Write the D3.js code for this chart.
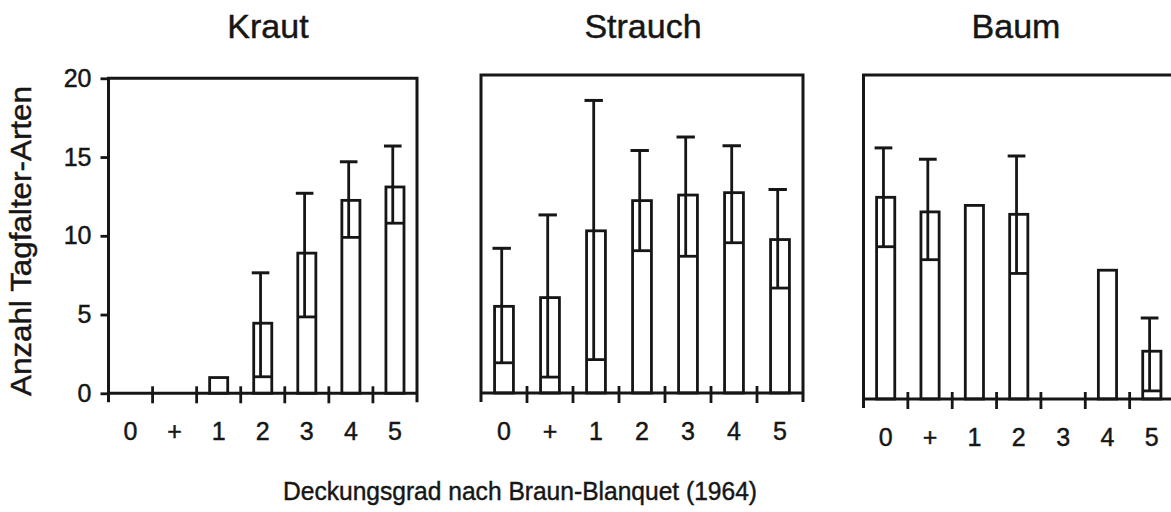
<!DOCTYPE html>
<html>
<head>
<meta charset="utf-8">
<script src="https://cdn.jsdelivr.net/npm/d3@7"></script>
<style>
  html, body { margin: 0; padding: 0; background: #fff; }
  svg { display: block; }
  text { font-family: "Liberation Sans", Arial, Helvetica, sans-serif; fill: #161616; stroke: #161616; stroke-width: 0.45px; }
</style>
</head>
<body>
<svg id="chart" width="1171" height="512"></svg>
<script>
// ---- data ----
const categories = ["0", "+", "1", "2", "3", "4", "5"];
const panelTitles = ["Kraut", "Strauch", "Baum"];
const yTicks = [0, 5, 10, 15, 20];

const krautMean = [null, null, 1.0, 4.45, 8.9, 12.25, 13.1];
const krautLow  = [null, null, null, 1.05, 4.85, 9.9, 10.8];
const krautHigh = [null, null, null, 7.65, 12.7, 14.7, 15.7];

const strauchMean = [5.45, 6.0, 10.2, 12.1, 12.45, 12.6, 9.65];
const strauchLow  = [1.9, 1.0, 2.1, 8.95, 8.6, 9.45, 6.6];
const strauchHigh = [9.1, 11.2, 18.4, 15.25, 16.1, 15.55, 12.8];

const baumMean = [12.45, 11.55, 11.95, 11.4, null, 7.95, 2.95];
const baumLow  = [9.4, 8.6, null, 7.75, null, null, 0.5];
const baumHigh = [15.5, 14.8, null, 15.0, null, null, 5.0];

const xTitle = "Deckungsgrad nach Braun-Blanquet (1964)";
const yTitle = "Anzahl Tagfalter-Arten";

// ---- layout (pixel boxes per panel: left, right, top, baseline) ----
const layout = [
  { left: 108.5, right: 417, top: 78.3, base: 393.3, yAxis: true, titleX: 268 },
  { left: 481, right: 803, top: 75, base: 393, yAxis: false, titleX: 643 },
  { left: 863.5, right: 1174, top: 75, base: 399, yAxis: false, titleX: 1016 }
];
const series = [
  { mean: krautMean, lo: krautLow, hi: krautHigh },
  { mean: strauchMean, lo: strauchLow, hi: strauchHigh },
  { mean: baumMean, lo: baumLow, hi: baumHigh }
];

const svg = d3.select("#chart");
const ink = "#161616";

panelTitles.forEach((title, p) => {
  const L = layout[p], S = series[p];
  const x = d3.scaleBand().domain(categories).range([L.left, L.right]).padding(0);
  const y = d3.scaleLinear().domain([0, 20]).range([L.base, L.top]);
  const g = svg.append("g");
  const bw = x.bandwidth() * 0.41;
  const off = -x.bandwidth() * 0.05;
  const cw = x.bandwidth() * 0.40;

  // bars
  categories.forEach((c, i) => {
    const m = S.mean[i];
    if (m == null) return;
    const xc = x(c) + x.bandwidth() / 2;
    g.append("rect")
      .attr("x", xc - bw / 2).attr("y", y(m))
      .attr("width", bw).attr("height", y(0) - y(m))
      .attr("fill", "#fff").attr("stroke", ink).attr("stroke-width", 2.8);
    if (S.lo[i] != null) {
      g.append("line")
        .attr("x1", xc - bw / 2).attr("x2", xc + bw / 2)
        .attr("y1", y(S.lo[i])).attr("y2", y(S.lo[i]))
        .attr("stroke", ink).attr("stroke-width", 2.8);
      g.append("line")
        .attr("x1", xc + off).attr("x2", xc + off)
        .attr("y1", y(S.lo[i])).attr("y2", y(S.hi[i]))
        .attr("stroke", ink).attr("stroke-width", 2.8);
      g.append("line")
        .attr("x1", xc + off - cw / 2).attr("x2", xc + off + cw / 2)
        .attr("y1", y(S.hi[i])).attr("y2", y(S.hi[i]))
        .attr("stroke", ink).attr("stroke-width", 3);
    }
  });

  // frame (left, top, right)
  g.append("path")
    .attr("d", `M${L.left},${L.base + 9}V${L.top}H${L.right}V${L.base + 9}`)
    .attr("fill", "none").attr("stroke", ink).attr("stroke-width", 3);
  // baseline
  g.append("line")
    .attr("x1", L.left).attr("x2", L.right)
    .attr("y1", L.base).attr("y2", L.base)
    .attr("stroke", ink).attr("stroke-width", 3);
  // boundary ticks between categories
  categories.slice(1).forEach(c => {
    const xb = x(c);
    g.append("line")
      .attr("x1", xb).attr("x2", xb)
      .attr("y1", L.base - 7).attr("y2", L.base + 10)
      .attr("stroke", ink).attr("stroke-width", 2.8);
  });

  // category labels through a d3 axis
  const ax = g.append("g")
    .attr("transform", `translate(0,${L.base})`)
    .call(d3.axisBottom(x).tickSize(0).tickPadding(0));
  ax.select(".domain").remove();
  ax.selectAll("text")
    .attr("dy", null).attr("y", 47)
    .style("font-size", "25px")
    .style("font-family", '"Liberation Sans", Arial, sans-serif')
    .attr("fill", ink);

  // y axis
  if (L.yAxis) {
    const ay = g.append("g")
      .attr("transform", `translate(${L.left},0)`)
      .call(d3.axisLeft(y).tickValues(yTicks).tickSize(8).tickPadding(9));
    ay.select(".domain").remove();
    ay.selectAll(".tick line").attr("stroke", ink).attr("stroke-width", 2.8);
    ay.selectAll("text")
      .style("font-size", "25px")
      .style("font-family", '"Liberation Sans", Arial, sans-serif')
      .attr("fill", ink);
  }

  // panel title
  svg.append("text")
    .attr("x", L.titleX)
    .attr("y", 38)
    .attr("text-anchor", "middle")
    .style("font-size", "34px")
    .text(title);
});

// axis titles
svg.append("text")
  .attr("x", 520).attr("y", 500)
  .attr("text-anchor", "middle")
  .attr("textLength", 474)
  .attr("lengthAdjust", "spacingAndGlyphs")
  .style("font-size", "26.5px")
  .text(xTitle);

svg.append("text")
  .attr("transform", "translate(31,241) rotate(-90)")
  .attr("text-anchor", "middle")
  .attr("textLength", 310)
  .attr("lengthAdjust", "spacingAndGlyphs")
  .style("font-size", "30px")
  .text(yTitle);
</script>
</body>
</html>
